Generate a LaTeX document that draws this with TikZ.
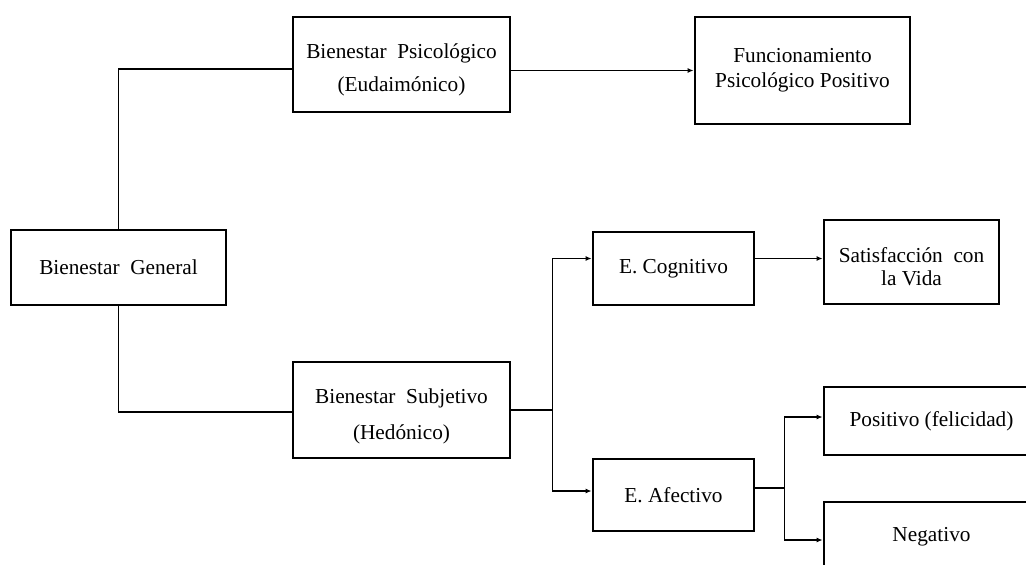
\documentclass[tikz,border=0pt]{standalone}
\usepackage{fontspec}
\setmainfont{Liberation Serif}
\usetikzlibrary{arrows.meta,calc}
\newcommand\lowerby[1]{\rule{0pt}{#1}}
\tikzset{
  box/.style={draw, line width=2.8pt, inner sep=0pt, align=center,
    font=\fontsize{21.3}{24}\selectfont},
  link/.style={line width=1.8pt},
  arr/.style={line width=1.8pt, -{Latex[length=6pt,width=5pt]}},
}
\begin{document}
\begin{tikzpicture}[x=1pt,y=-1pt]
\clip (0,0) rectangle (1026,565);
\fill[white] (0,0) rectangle (1026,565);

% boxes
\node[box, minimum width=215, minimum height=75] (bg) at (118.5,267.5) {Bienestar\ \ General};
\node[box, minimum width=217, minimum height=95] (bp) at (401.5,64.5) {\lowerby{26pt}Bienestar\ \ Psicológico\\[9pt](Eudaimónico)};
\node[box, minimum width=215, minimum height=107] (fn) at (802.5,70.5) {Funcionamiento\\[1pt]Psicológico Positivo};
\node[box, minimum width=217, minimum height=96] (bs) at (401.5,410) {\lowerby{28pt}Bienestar\ \ Subjetivo\\[12pt](Hedónico)};
\node[box, minimum width=161, minimum height=73] (ec) at (673.5,268.5) {E. Cognitivo};
\node[box, minimum width=175, minimum height=84] (sat) at (911.5,262) {\lowerby{25pt}Satisfacción\ \ con\\[-1pt]la Vida};
\node[box, minimum width=161, minimum height=72] (ea) at (673.5,495) {E. Afectivo};
\node[box, minimum width=215, minimum height=68] (pos) at (931.5,421) {Positivo (felicidad)};
\node[box, minimum width=215, minimum height=70] (neg) at (931.5,537) {Negativo};

% general -> psychological / subjective
\draw[link] (bg.north) |- ([yshift=-4.5pt]bp.west);
\draw[link] (bg.south) |- ([yshift=-2pt]bs.west);
\draw[arr] (fn.west -| bp.east) -- (fn.west);

% subjective -> cognitive / affective
\path (bs.east) ++(41,0) coordinate (j1);
\draw[line width=2.8pt] (bs.east) -- (j1);
\draw[arr] (j1) |- ([yshift=10pt]ec.west);
\draw[arr] (j1) |- ([yshift=4pt]ea.west);
\draw[arr] ([yshift=10pt]ec.east) -- ([yshift=10pt]ec.east -| sat.west);

% affective -> positive / negative
\path ([yshift=7pt]ea.east) ++(29,0) coordinate (j2);
\draw[line width=2.4pt] ([yshift=7pt]ea.east) -- (j2);
\draw[arr] (j2) |- ([yshift=4pt]pos.west);
\draw[arr] (j2) |- ([yshift=-3pt]neg.west);
\end{tikzpicture}
\end{document}
